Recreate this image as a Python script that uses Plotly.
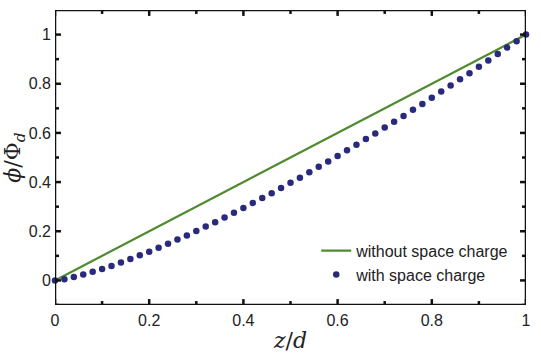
import plotly.graph_objects as go

z_line = [0.0, 1.0]
phi_line = [0.0, 1.0]

z_dots = [0.00, 0.02, 0.04, 0.06, 0.08, 0.10, 0.12, 0.14, 0.16, 0.18,
          0.20, 0.22, 0.24, 0.26, 0.28, 0.30, 0.32, 0.34, 0.36, 0.38,
          0.40, 0.42, 0.44, 0.46, 0.48, 0.50, 0.52, 0.54, 0.56, 0.58,
          0.60, 0.62, 0.64, 0.66, 0.68, 0.70, 0.72, 0.74, 0.76, 0.78,
          0.80, 0.82, 0.84, 0.86, 0.88, 0.90, 0.92, 0.94, 0.96, 0.98, 1.00]
phi_dots = [0.000, 0.005, 0.014, 0.024, 0.035, 0.046, 0.059, 0.073, 0.087, 0.102,
            0.117, 0.133, 0.149, 0.166, 0.183, 0.201, 0.219, 0.237, 0.256, 0.275,
            0.295, 0.315, 0.335, 0.355, 0.376, 0.397, 0.418, 0.440, 0.462, 0.484,
            0.506, 0.529, 0.552, 0.575, 0.598, 0.622, 0.645, 0.669, 0.694, 0.718,
            0.743, 0.768, 0.793, 0.818, 0.843, 0.869, 0.895, 0.921, 0.947, 0.973, 1.000]

x_range = [0, 1]
y_range = [-0.1, 1.1]
x_ticks = [0, 0.2, 0.4, 0.6, 0.8, 1]
x_ticklabels = ["0", "0.2", "0.4", "0.6", "0.8", "1"]
x_minor = [0.1, 0.3, 0.5, 0.7, 0.9]
y_ticks = [0, 0.2, 0.4, 0.6, 0.8, 1]
y_ticklabels = ["0", "0.2", "0.4", "0.6", "0.8", "1"]
y_minor = [-0.1, 0.1, 0.3, 0.5, 0.7, 0.9]

W, H = 541, 358
ML, MR, MT, MB = 55, 13, 10, 49
px_per_x = (W - ML - MR) / (x_range[1] - x_range[0])
px_per_y = (H - MT - MB) / (y_range[1] - y_range[0])
FRAME = "#111111"


def x_tick_segments(vals, length_px):
    d = length_px / px_per_y
    xs, ys = [], []
    for t in vals:
        xs += [t, t, None, t, t, None]
        ys += [y_range[0], y_range[0] + d, None, y_range[1], y_range[1] - d, None]
    return xs, ys


def y_tick_segments(vals, length_px):
    d = length_px / px_per_x
    xs, ys = [], []
    for t in vals:
        xs += [x_range[0], x_range[0] + d, None, x_range[1], x_range[1] - d, None]
        ys += [t, t, None, t, t, None]
    return xs, ys


fig = go.Figure()
fig.add_trace(go.Scatter(x=z_line, y=phi_line, mode="lines",
                         line=dict(color="#4E8A2E", width=2.2),
                         name="without space charge"))
fig.add_trace(go.Scatter(x=z_dots, y=phi_dots, mode="markers",
                         marker=dict(color="#2A2A7C", size=6.5),
                         cliponaxis=False,
                         name="with space charge"))
# plot frame built from the axis ranges
fig.add_trace(go.Scatter(
    x=[x_range[0], x_range[1], x_range[1], x_range[0], x_range[0]],
    y=[y_range[0], y_range[0], y_range[1], y_range[1], y_range[0]],
    mode="lines", line=dict(color=FRAME, width=2.5),
    cliponaxis=False, showlegend=False, hoverinfo="skip"))
# tick marks (inside, on all four sides) built from the tick arrays
for (vals, fn, ln, w) in [(x_ticks, x_tick_segments, 6, 2.5), (x_minor, x_tick_segments, 4, 2.5),
                          (y_ticks, y_tick_segments, 6, 2.5), (y_minor, y_tick_segments, 4, 2.5)]:
    tx, ty = fn(vals, ln)
    fig.add_trace(go.Scatter(x=tx, y=ty, mode="lines", line=dict(color=FRAME, width=w),
                             cliponaxis=False, showlegend=False, hoverinfo="skip"))

tick_font = dict(family="Liberation Sans", size=16, color="#222222")

fig.update_layout(
    width=W, height=H,
    margin=dict(l=ML, r=MR, t=MT, b=MB),
    paper_bgcolor="white", plot_bgcolor="white",
    showlegend=True,
    legend=dict(x=0.975, y=0.045, xanchor="right", yanchor="bottom",
                bgcolor="rgba(0,0,0,0)", borderwidth=0,
                font=dict(family="Liberation Sans", size=16, color="#222222"),
                tracegroupgap=0),
)
fig.update_xaxes(range=x_range, tickmode="array", tickvals=x_ticks, ticktext=x_ticklabels,
                 showline=False, ticks="", showgrid=False, zeroline=False, tickfont=tick_font,
                 ticklabelstandoff=4,
                 title=dict(text="<i>z</i>/<i>d</i>", standoff=4,
                            font=dict(family="DejaVu Serif", size=22, color="#222222")))
fig.update_yaxes(range=y_range, tickmode="array", tickvals=y_ticks, ticktext=y_ticklabels,
                 showline=False, ticks="", showgrid=False, zeroline=False, tickfont=tick_font,
                 ticklabelstandoff=3,
                 title=dict(text="<i>ϕ</i>/Φ<sub><i>d</i></sub>", standoff=2,
                            font=dict(family="DejaVu Serif", size=22, color="#222222")))

fig.write_html("out.html")
